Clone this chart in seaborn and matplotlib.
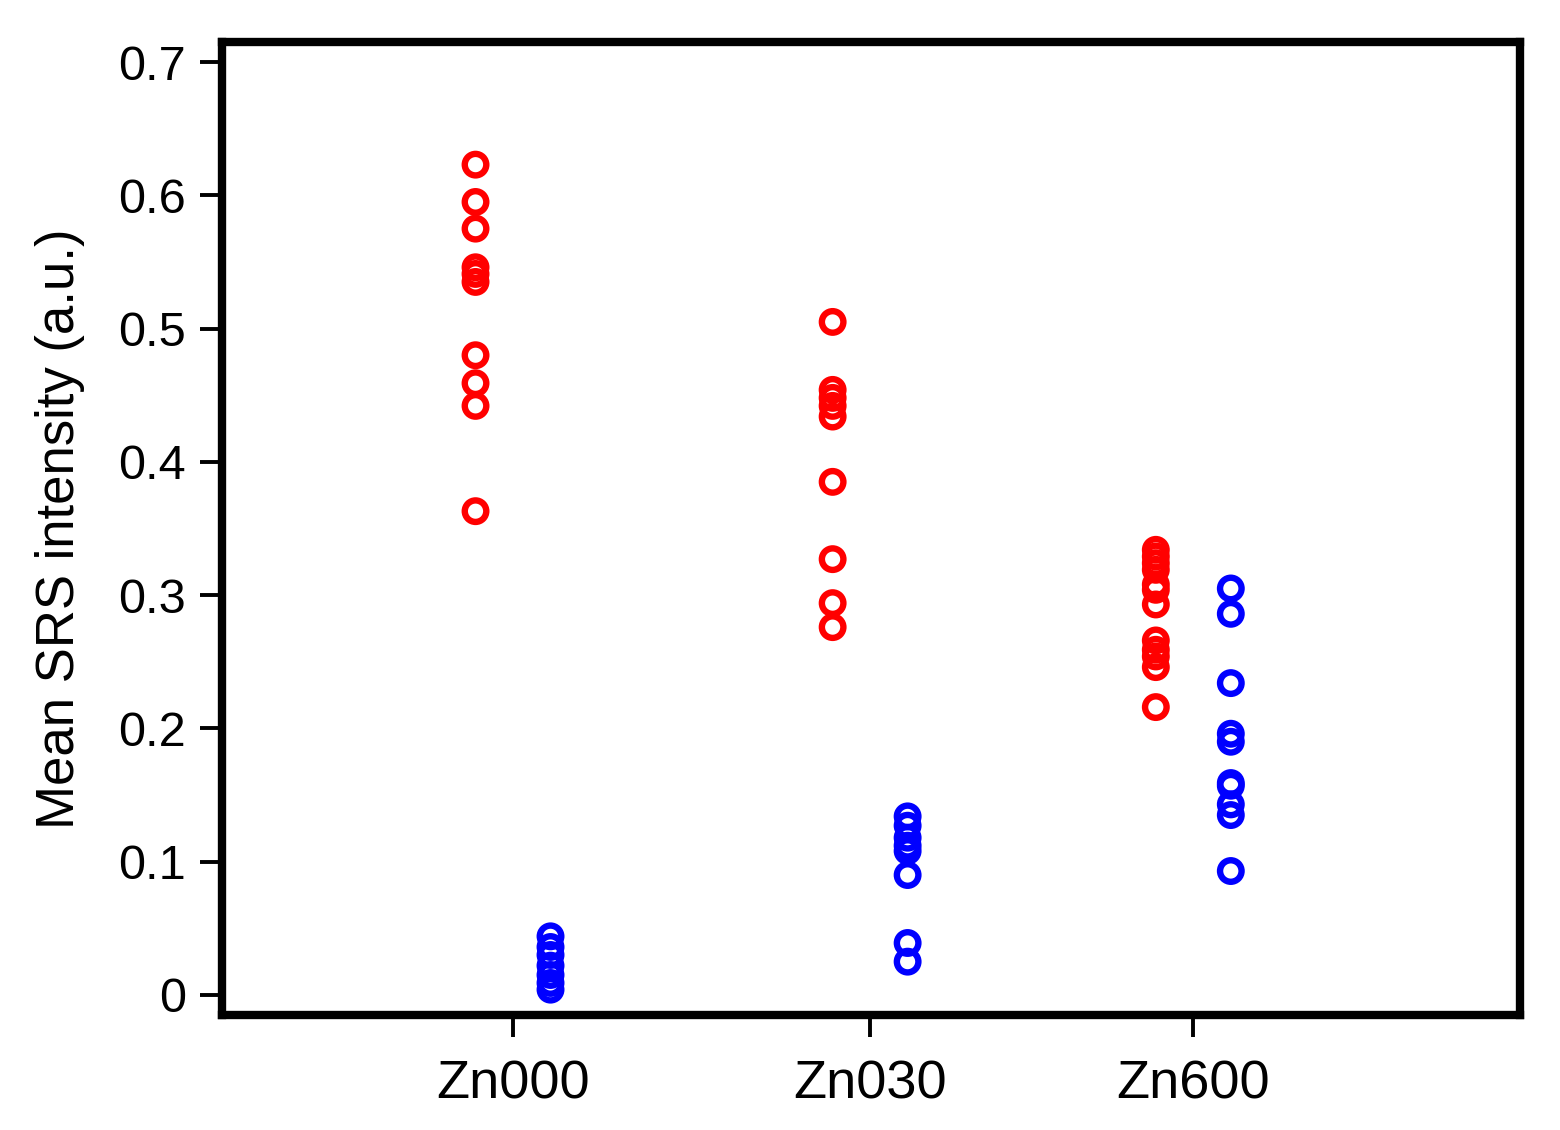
import numpy as np
import pandas as pd
import seaborn as sns
import matplotlib
matplotlib.use("Agg")
import matplotlib.pyplot as plt

# groups and their tick positions on the x axis (ticks are not evenly spaced)
groups = ["Zn000", "Zn030", "Zn600"]
group_pos = [1.0, 2.0, 2.905]

# mean SRS intensity values
red_zn000 = [0.623, 0.595, 0.575, 0.546, 0.541, 0.535, 0.480, 0.459, 0.442, 0.363]
red_zn030 = [0.505, 0.454, 0.448, 0.442, 0.434, 0.385, 0.327, 0.294, 0.276]
red_zn600 = [0.334, 0.329, 0.324, 0.319, 0.308, 0.304, 0.293, 0.266, 0.259,
             0.254, 0.246, 0.216]
blue_zn000 = [0.044, 0.036, 0.030, 0.022, 0.015, 0.009, 0.004]
blue_zn030 = [0.134, 0.127, 0.118, 0.112, 0.108, 0.090, 0.039, 0.025]
blue_zn600 = [0.305, 0.286, 0.234, 0.196, 0.190, 0.159, 0.157, 0.143, 0.135, 0.093]

red_sets = [red_zn000, red_zn030, red_zn600]
blue_sets = [blue_zn000, blue_zn030, blue_zn600]
offset = 0.105

rows = []
for pos, reds, blues in zip(group_pos, red_sets, blue_sets):
    for v in reds:
        rows.append((pos - offset, v, "red"))
    for v in blues:
        rows.append((pos + offset, v, "blue"))
df = pd.DataFrame(rows, columns=["x", "y", "series"])

sns.set_style("ticks")
plt.rcParams["font.family"] = ["Liberation Sans", "DejaVu Sans"]
plt.rcParams["text.color"] = "black"
plt.rcParams["xtick.color"] = "black"
plt.rcParams["ytick.color"] = "black"
plt.rcParams["axes.labelcolor"] = "black"

fig = plt.figure(figsize=(15.6, 11.3), dpi=100)
ax = fig.add_axes([0.1423, 0.1018, 0.8321, 0.861])

for name, col in [("red", "#ff0000"), ("blue", "#0000ff")]:
    sub = df[df["series"] == name]
    sns.scatterplot(x=sub["x"], y=sub["y"], ax=ax, marker="o", s=240,
                    facecolors="none", edgecolor=col, linewidth=4.6, legend=False)
# make sure the ring thickness sticks
for coll in ax.collections:
    coll.set_linewidth(4.6)

ax.set_xlim(0.185, 3.82)
ax.set_ylim(-0.015, 0.715)
ax.set_xticks(group_pos)
ax.set_xticklabels(groups, fontsize=39)
ax.set_yticks(np.arange(0, 0.71, 0.1))
ax.set_yticklabels(["0", "0.1", "0.2", "0.3", "0.4", "0.5", "0.6", "0.7"], fontsize=35)
ax.set_xlabel("")
ax.set_ylabel("Mean SRS intensity (a.u.)", fontsize=38, labelpad=24)

for sp in ax.spines.values():
    sp.set_visible(True)
    sp.set_linewidth(6)
    sp.set_color("black")
ax.tick_params(axis="both", direction="out", length=16, width=2.8)
ax.tick_params(axis="y", pad=10)
ax.tick_params(axis="x", pad=16)

plt.savefig("out.png", dpi=100)
